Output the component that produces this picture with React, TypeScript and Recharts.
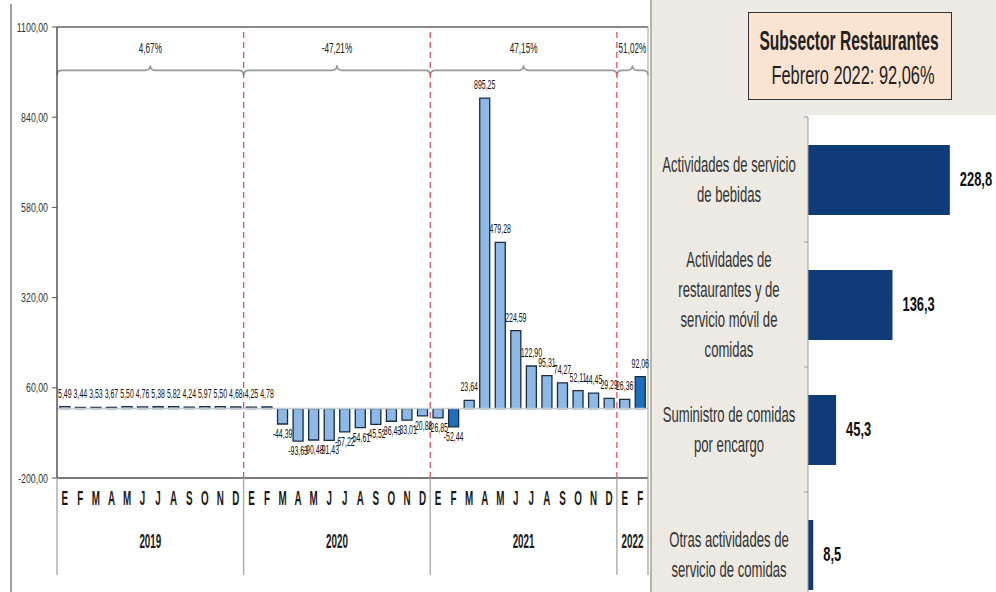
import React from "react";
import {
  BarChart,
  Bar,
  XAxis,
  YAxis,
  Cell,
  LabelList,
  ReferenceLine,
  ReferenceArea,
} from "recharts";

// Arial-metric font, squeezed horizontally to look like the narrow face of the original
const FONT = '"Liberation Sans", Arial, sans-serif';

// monthly variation (%), restaurants subsector
const monthLetters = ["E", "F", "M", "A", "M", "J", "J", "A", "S", "O", "N", "D"];
const years = ["2019", "2020", "2021", "2022"];
const values2019 = [5.49, 3.44, 3.53, 3.67, 5.5, 4.76, 5.38, 5.82, 4.24, 5.97, 5.5, 4.68];
const values2020 = [4.25, 4.78, -44.39, -93.63, -90.48, -91.43, -67.22, -54.61, -45.52, -36.43, -33.01, -20.88];
const values2021 = [-26.85, -52.44, 23.64, 895.25, 479.28, 224.59, 122.9, 95.31, 74.27, 52.11, 44.45, 29.29];
const values2022 = [26.36, 92.06];
const yearValues = [values2019, values2020, values2021, values2022];
const annualChange = ["4,67%", "-47,21%", "47,15%", "51,02%"];
const yTicks = [-200, 60, 320, 580, 840, 1100];

// breakdown for February 2022
const segmentLabels = [
  "Actividades de servicio\nde bebidas",
  "Actividades de\nrestaurantes y de\nservicio móvil de\ncomidas",
  "Suministro de comidas\npor encargo",
  "Otras actividades de\nservicio de comidas",
];
const segmentValues = [228.8, 136.3, 45.3, 8.5];

const monthly = years.flatMap((year, yi) =>
  yearValues[yi].map((value, mi) => ({ key: `${year}-${mi}`, year, mi, value }))
);
const segments = segmentLabels.map((name, i) => ({ name, value: segmentValues[i] }));

const fmt = (v: number, d: number) => v.toFixed(d).replace(".", ",");
const BAND_FALLBACK = 591 / monthly.length;

function StretchText({ x, y, sx = 0.82, sy, children, ...rest }: any) {
  return (
    <text
      x={0}
      y={0}
      transform={`translate(${x} ${y}) scale(${sx} ${sy})`}
      fontFamily={FONT}
      {...rest}
    >
      {children}
    </text>
  );
}

function MonthTick(props: any) {
  const { x, y, payload } = props;
  const mi = Number(String(payload.value).split("-")[1]);
  return (
    <StretchText
      x={x}
      y={y + 19}
      sy={1.7}
      textAnchor="middle"
      fontWeight={700}
      fontSize={12}
      fill="#1a1a1a"
    >
      {monthLetters[mi]}
    </StretchText>
  );
}

function YearTick(props: any) {
  const { x, y, payload } = props;
  const [year, m] = String(payload.value).split("-");
  const mi = Number(m);
  const half = payload.offset || BAND_FALLBACK / 2;
  const yi = years.indexOf(year);
  const count = yearValues[yi].length;
  const isLast = yi === years.length - 1 && mi === count - 1;
  const sep = (sx: number) => (
    <line x1={sx} x2={sx} y1={y - 48} y2={y + 49} stroke="#b0b0b0" strokeWidth={1.5} />
  );
  return (
    <g>
      {mi === 0 && sep(x - half)}
      {mi === 0 && (
        <StretchText
          x={x - half + count * half}
          y={y + 22}
          sy={1.75}
          textAnchor="middle"
          fontWeight={700}
          fontSize={12}
          fill="#1a1a1a"
        >
          {year}
        </StretchText>
      )}
      {isLast && sep(x + half)}
    </g>
  );
}

function YTick(props: any) {
  const { x, y, payload } = props;
  return (
    <StretchText
      x={x}
      y={y}
      sx={0.88}
      sy={1.3}
      textAnchor="end"
      dominantBaseline="central"
      fontSize={10}
      fill="#333"
    >
      {fmt(payload.value, 2)}
    </StretchText>
  );
}

function BarValueLabel(props: any) {
  const { x, y, width, height, value } = props;
  const top = Math.min(y, y + height);
  const bottom = Math.max(y, y + height);
  const ty = value >= 0 ? top - 9 : bottom + 14;
  return (
    <StretchText
      x={x + width / 2}
      y={ty}
      sy={1.5}
      textAnchor="middle"
      fontSize={8.5}
      fill="#111"
    >
      {fmt(value, 2)}
    </StretchText>
  );
}

function braceShape(label: string) {
  return (props: any) => {
    const { x, y, width, height } = props;
    const b = y + height;
    const cx = x + width / 2;
    const r = 5;
    const d =
      `M${x} ${b + r} Q${x} ${b} ${x + r} ${b} L${cx - r} ${b} Q${cx} ${b} ${cx} ${b - r} ` +
      `Q${cx} ${b} ${cx + r} ${b} L${x + width - r} ${b} Q${x + width} ${b} ${x + width} ${b + r}`;
    return (
      <g>
        <path d={d} fill="none" stroke="#9a9a9a" strokeWidth={1.6} />
        <StretchText
          x={cx}
          y={y + height / 2 + 4}
          sy={1.5}
          textAnchor="middle"
          fontSize={10}
          fill="#222"
        >
          {label}
        </StretchText>
      </g>
    );
  };
}

function SegmentTick(props: any) {
  const { x, y, payload } = props;
  const lines = String(payload.value).split("\n");
  const half = payload.offset || 62.5;
  const ax = x + 8;
  return (
    <g>
      <line x1={ax - 4} x2={ax} y1={y - half} y2={y - half} stroke="#9a9a9a" />
      {lines.map((l, i) => (
        <StretchText
          key={i}
          x={x - 71}
          y={y + (i - (lines.length - 1) / 2) * 30}
          sy={1.4}
          textAnchor="middle"
          dominantBaseline="central"
          fontSize={16}
          fill="#333"
        >
          {l}
        </StretchText>
      ))}
    </g>
  );
}

function SegmentLabel(props: any) {
  const { x, y, width, height, value } = props;
  return (
    <StretchText
      x={x + width + 10}
      y={y + height / 2}
      sx={0.86}
      sy={1.3}
      dominantBaseline="central"
      fontWeight={700}
      fontSize={15}
      fill="#111"
    >
      {fmt(value, 1)}
    </StretchText>
  );
}

export default function App() {
  return (
    <div
      style={{
        position: "relative",
        width: 996,
        height: 592,
        overflow: "hidden",
        background: "#fff",
        fontFamily: FONT,
      }}
    >
      <style>{"body{margin:0}"}</style>
      <div
        style={{ position: "absolute", left: 10, top: 4, width: 1.5, height: 588, background: "#a0a0a0" }}
      />
      <div style={{ position: "absolute", left: 0, top: 0 }}>
        <BarChart
          width={652}
          height={592}
          data={monthly}
          margin={{ top: 27, right: 4, left: 7, bottom: 4 }}
          barCategoryGap="18%"
        >
          <XAxis
            dataKey="key"
            interval={0}
            tickLine={false}
            axisLine={{ stroke: "#7a7a7a", strokeWidth: 2 }}
            height={40}
            tick={<MonthTick />}
          />
          <XAxis
            xAxisId="year"
            dataKey="key"
            interval={0}
            tickLine={false}
            axisLine={false}
            height={70}
            tick={<YearTick />}
          />
          <YAxis
            domain={[-200, 1100]}
            ticks={yTicks}
            interval={0}
            width={50}
            tickSize={5}
            tickMargin={4}
            axisLine={{ stroke: "#555", strokeWidth: 1.5 }}
            tickLine={{ stroke: "#555" }}
            tick={<YTick />}
          />
          <ReferenceLine y={0} stroke="#c3cbd6" strokeWidth={1.5} />
          <ReferenceLine y={1100} stroke="#8a8a8a" strokeWidth={2} />
          <ReferenceLine x={monthly[monthly.length - 1].key} position="end" stroke="#9a9a9a" />
          <Bar dataKey="value" isAnimationActive={false} stroke="#1c2b42" strokeWidth={1.3}>
            {monthly.map((d) => (
              <Cell key={d.key} fill={d.mi === 1 ? "#1f6fbf" : "#8db9e6"} />
            ))}
            <LabelList dataKey="value" content={<BarValueLabel />} />
          </Bar>
          {years.slice(1).map((year) => (
            <ReferenceLine
              key={year}
              x={`${year}-0`}
              position="start"
              stroke="#e4505a"
              strokeWidth={1.3}
              strokeDasharray="6 4"
            />
          ))}
          {years.map((year, yi) => (
            <ReferenceArea
              key={year}
              x1={`${year}-0`}
              x2={`${year}-${yearValues[yi].length - 1}`}
              y1={975}
              y2={1100}
              shape={braceShape(annualChange[yi])}
            />
          ))}
        </BarChart>
      </div>

      <div
        style={{
          position: "absolute",
          left: 650,
          top: 0,
          width: 346,
          height: 592,
          background: "#ECEAE3",
          borderLeft: "2px solid #b8b5ae",
          boxSizing: "border-box",
        }}
      >
        <div
          style={{
            position: "absolute",
            left: 96,
            top: 12,
            width: 204,
            height: 88,
            background: "#FBE3D1",
            border: "1.5px solid #333",
            boxSizing: "border-box",
          }}
        >
          <svg width={201} height={85} style={{ display: "block" }}>
            <StretchText
              x={100}
              y={27}
              sy={1.5}
              textAnchor="middle"
              dominantBaseline="central"
              fontWeight={700}
              fontSize={19}
              fill="#222"
            >
              Subsector Restaurantes
            </StretchText>
            <StretchText
              x={104}
              y={62}
              sy={1.3}
              textAnchor="middle"
              dominantBaseline="central"
              fontSize={20}
              fill="#222"
            >
              Febrero 2022: 92,06%
            </StretchText>
          </svg>
        </div>
        <div
          style={{ position: "absolute", left: 156, top: 115, width: 190, height: 477, background: "#fff" }}
        />
        <div style={{ position: "absolute", left: 0, top: 0 }}>
          <BarChart
            layout="vertical"
            width={344}
            height={617}
            data={segments}
            margin={{ top: 117, right: 2, left: 0, bottom: 0 }}
          >
            <XAxis type="number" domain={[0, 300]} hide />
            <YAxis
              type="category"
              dataKey="name"
              width={156}
              interval={0}
              tickLine={false}
              axisLine={{ stroke: "#9a9a9a" }}
              tick={<SegmentTick />}
            />
            <Bar dataKey="value" fill="#0f3c78" barSize={70} isAnimationActive={false}>
              <LabelList dataKey="value" content={<SegmentLabel />} />
            </Bar>
          </BarChart>
        </div>
      </div>
    </div>
  );
}
